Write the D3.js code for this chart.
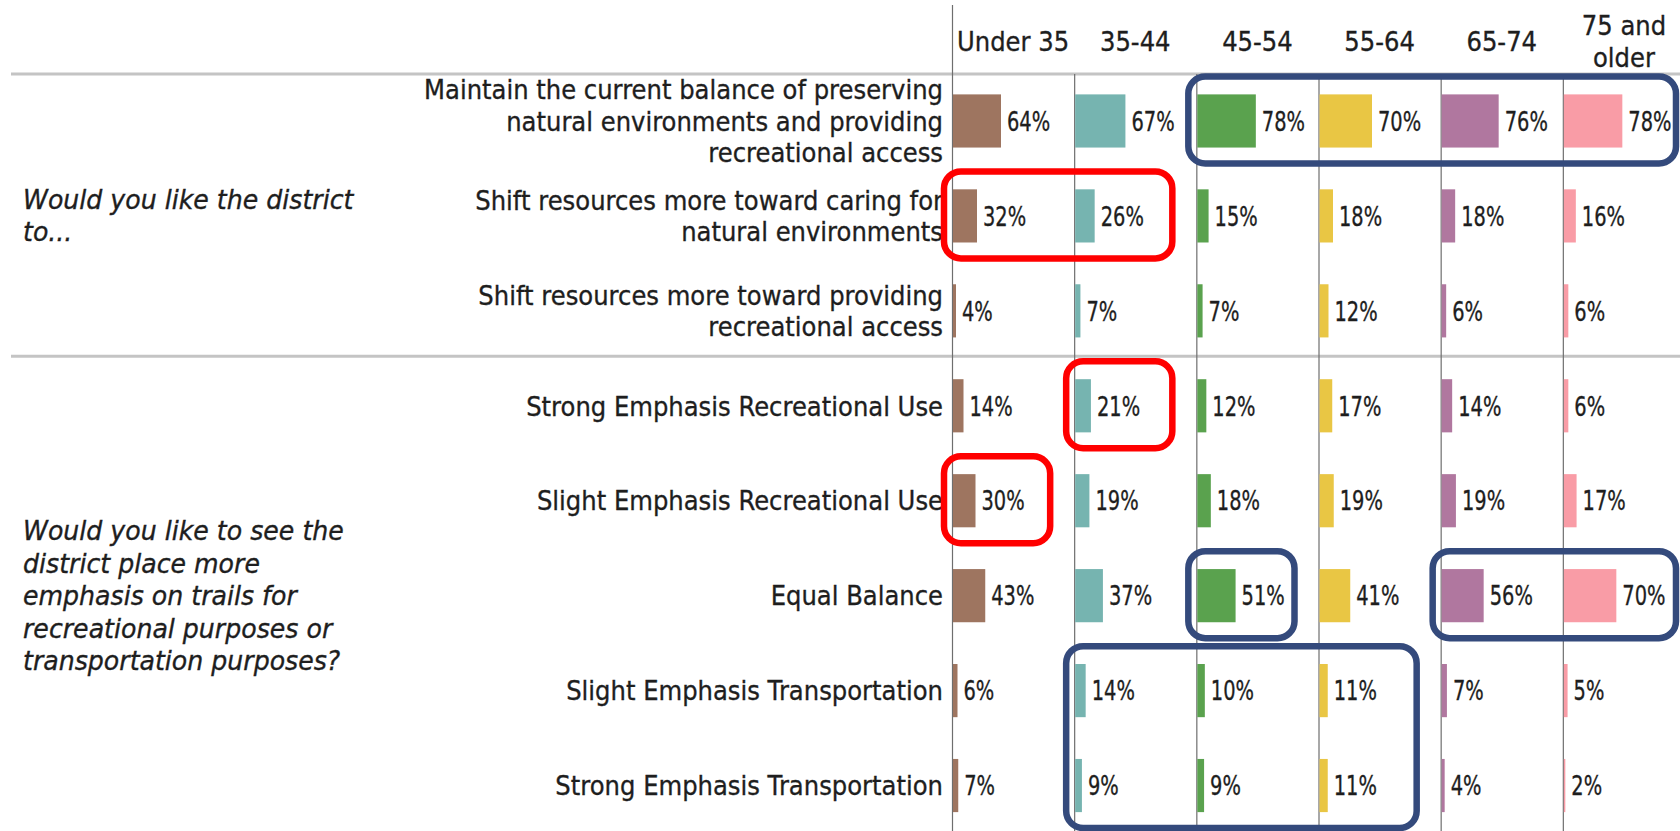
<!DOCTYPE html>
<html>
<head>
<meta charset="utf-8">
<script src="https://cdn.jsdelivr.net/npm/d3@7"></script>
<style>
  html, body { margin: 0; padding: 0; background: #fff; }
  svg { display: block; }
  text { font-family: "DejaVu Sans", Verdana, sans-serif; fill: #1e1e1e; stroke: #1e1e1e; stroke-width: 0.35px; }
</style>
</head>
<body>
<script>
// columns: age groups, header lines and bar colours
const ageGroups = ["Under 35", "35-44", "45-54", "55-64", "65-74", "75 and older"];
const ageHeaders = [["Under 35"], ["35-44"], ["45-54"], ["55-64"], ["65-74"], ["75 and", "older"]];
const ageColors = ["#9e7560", "#76b4b0", "#5aa24e", "#e9c644", "#b0779f", "#f99ca6"];

// rows: answer labels (already broken into lines)
const answers = [
  ["Maintain the current balance of preserving", "natural environments and providing", "recreational access"],
  ["Shift resources more toward caring for", "natural environments"],
  ["Shift resources more toward providing", "recreational access"],
  ["Strong Emphasis Recreational Use"],
  ["Slight Emphasis Recreational Use"],
  ["Equal Balance"],
  ["Slight Emphasis Transportation"],
  ["Strong Emphasis Transportation"]
];

// the two questions and the answer rows they cover
const question1 = ["Would you like the district", "to..."];
const question1Rows = [0, 2];
const question2 = ["Would you like to see the", "district place more", "emphasis on trails for",
                   "recreational purposes or", "transportation purposes?"];
const question2Rows = [3, 7];

// share of each answer, per age group (answer order as above)
const under35   = [0.64, 0.32, 0.04, 0.14, 0.30, 0.43, 0.06, 0.07];
const age35to44 = [0.67, 0.26, 0.07, 0.21, 0.19, 0.37, 0.14, 0.09];
const age45to54 = [0.78, 0.15, 0.07, 0.12, 0.18, 0.51, 0.10, 0.09];
const age55to64 = [0.70, 0.18, 0.12, 0.17, 0.19, 0.41, 0.11, 0.11];
const age65to74 = [0.76, 0.18, 0.06, 0.14, 0.19, 0.56, 0.07, 0.04];
const age75plus = [0.78, 0.16, 0.06, 0.06, 0.17, 0.70, 0.05, 0.02];
const series = [under35, age35to44, age45to54, age55to64, age65to74, age75plus];

// highlight boxes drawn over the table: [first,last] row, [first,last] column, kind
const highlightRows  = [[1, 1], [3, 3], [4, 4], [0, 0], [5, 5], [5, 5], [6, 7]];
const highlightCols  = [[0, 1], [1, 1], [0, 0], [2, 5], [2, 2], [4, 5], [1, 3]];
const highlightKinds = ["red", "red", "red", "navy", "navy", "navy", "navy"];
const kindColor = { red: "#ff0000", navy: "#344a7c" };

const W = 1680, H = 831;
const svg = d3.select("body").append("svg").attr("width", W).attr("height", H);

const col = d3.scaleBand().domain(d3.range(ageGroups.length)).range([952, 1685]);
const row = d3.scaleBand().domain(d3.range(answers.length)).range([73.5, 833])
  .paddingInner(0.44).paddingOuter(0.22);
const len = d3.scaleLinear().domain([0, 1]).range([0, 75]);
const rowMid = i => row(i) + row.bandwidth() / 2;
const step = row.step();

// multi-line text, centred on yMid, squeezed horizontally by sx
function label(lines, x, yMid, o) {
  const lh = o.lh || 31.5;
  const t = svg.append("text")
    .attr("transform", `translate(${x},${yMid}) scale(${o.sx},1)`)
    .attr("text-anchor", o.anchor)
    .attr("font-size", o.size)
    .attr("font-style", o.italic ? "italic" : null);
  lines.forEach((s, k) => {
    t.append("tspan").attr("x", 0)
      .attr("y", (k - (lines.length - 1) / 2) * lh)
      .attr("dy", "0.36em")
      .text(s);
  });
}

// grid lines
const sepY = [row.range()[0] + 0.5, (rowMid(question1Rows[1]) + rowMid(question2Rows[0])) / 2 - 2];
svg.selectAll("line.sep").data(sepY).enter().append("line")
  .attr("x1", 11).attr("x2", W)
  .attr("y1", d => d).attr("y2", d => d)
  .attr("stroke", "#c4c4c4").attr("stroke-width", 3);

svg.selectAll("line.col").data(d3.range(ageGroups.length)).enter().append("line")
  .attr("x1", i => col(i) + 0.5).attr("x2", i => col(i) + 0.5)
  .attr("y1", i => i === 0 ? 5 : sepY[0]).attr("y2", H)
  .attr("stroke", "#6e6e6e").attr("stroke-width", 1.2);

// headers
ageHeaders.forEach((lines, i) => {
  label(lines, col(i) + col.bandwidth() / 2, 41, { anchor: "middle", size: 27, sx: 0.9, lh: 32 });
});

// answer labels
answers.forEach((lines, i) => {
  label(lines, col(0) - 9, rowMid(i), { anchor: "end", size: 27, sx: 0.9 });
});

// questions
label(question1, 23, (rowMid(question1Rows[0]) + rowMid(question1Rows[1])) / 2,
  { anchor: "start", size: 26, sx: 0.97, italic: true, lh: 32 });
label(question2, 23, (rowMid(question2Rows[0]) + rowMid(question2Rows[1])) / 2,
  { anchor: "start", size: 26, sx: 0.97, italic: true, lh: 32.5 });

// bars + value labels
series.forEach((vals, j) => {
  const g = svg.append("g");
  g.selectAll("rect").data(vals).enter().append("rect")
    .attr("x", col(j) + 1)
    .attr("y", (d, i) => row(i))
    .attr("width", d => len(d))
    .attr("height", row.bandwidth())
    .attr("fill", ageColors[j]);
  vals.forEach((v, i) => {
    label([d3.format(".0%")(v)], col(j) + 1 + len(v) + 6, rowMid(i),
      { anchor: "start", size: 27, sx: 0.72 });
  });
});

// highlight boxes
highlightRows.forEach((rr, k) => {
  const cc = highlightCols[k];
  const x0 = col(cc[0]) - 8;
  const x1 = cc[1] === ageGroups.length - 1 ? W - 4 : col(cc[1]) + col.bandwidth() - 24;
  const y0 = rowMid(rr[0]) - step / 2 + 3;
  const y1 = rowMid(rr[1]) + step / 2 - 5;
  svg.append("rect")
    .attr("x", x0).attr("y", y0)
    .attr("width", x1 - x0).attr("height", y1 - y0)
    .attr("rx", 17).attr("ry", 17)
    .attr("fill", "none")
    .attr("stroke", kindColor[highlightKinds[k]])
    .attr("stroke-width", 6.5);
});
</script>
</body>
</html>
